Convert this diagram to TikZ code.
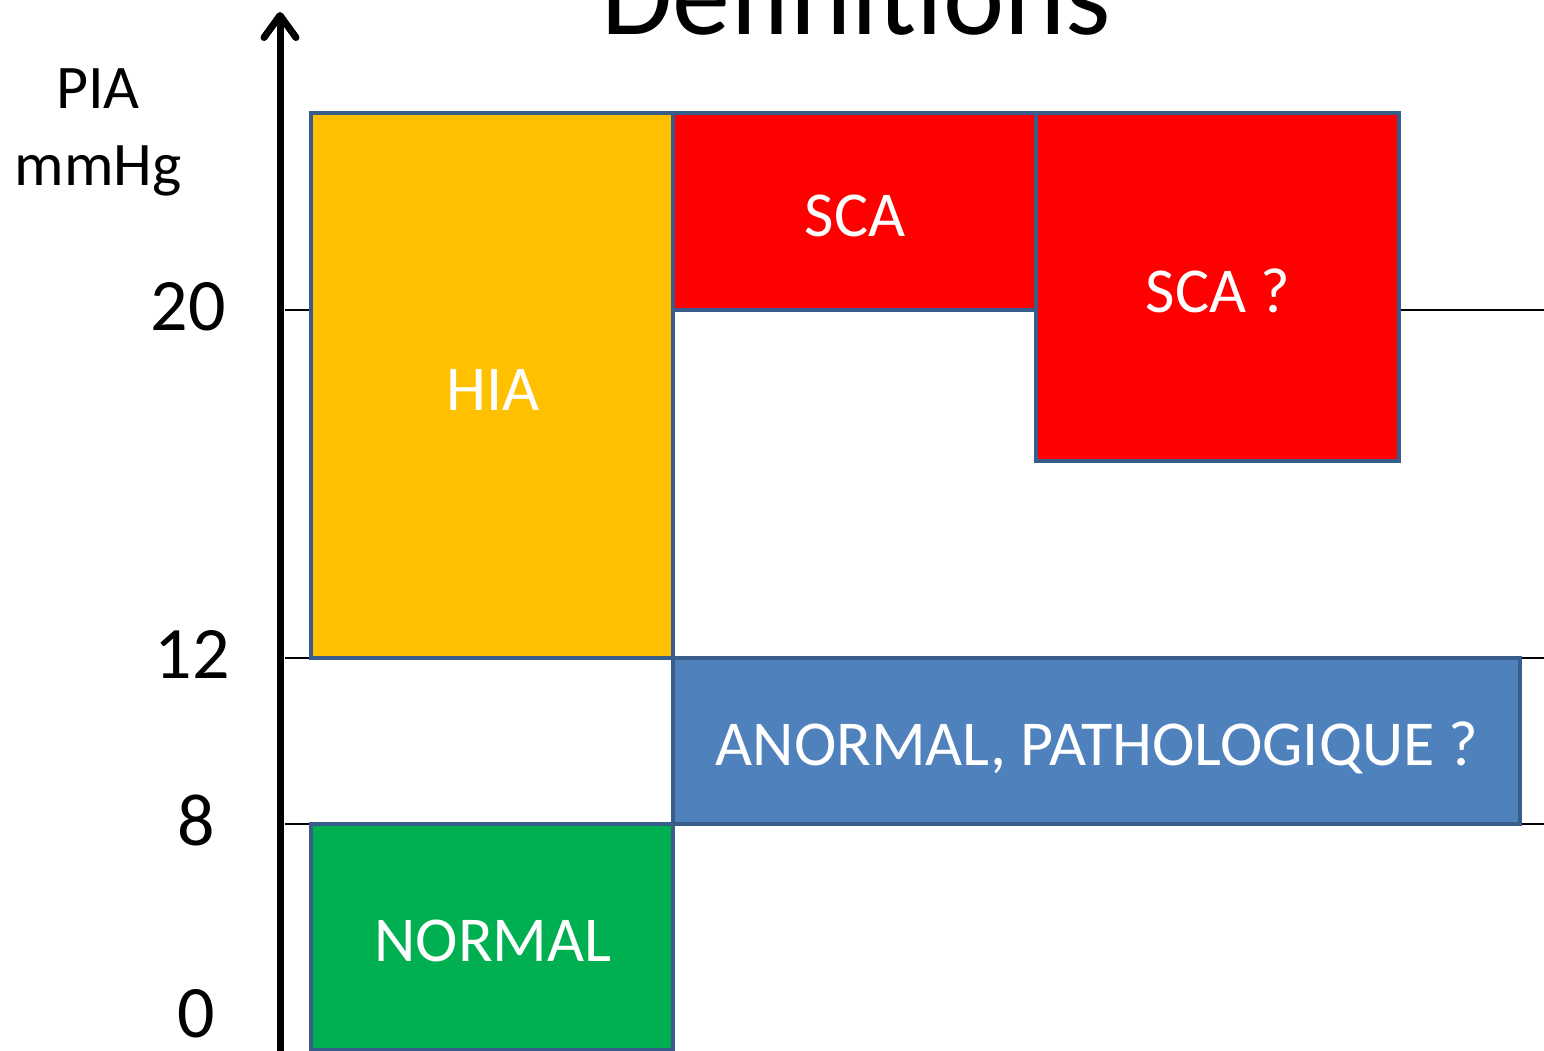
\documentclass[tikz,border=0pt]{standalone}
\usepackage{fontspec}
\setmainfont{Carlito}
\usetikzlibrary{arrows.meta}
\definecolor{hiaorange}{HTML}{FFC000}
\definecolor{scared}{HTML}{FF0000}
\definecolor{normgreen}{HTML}{00B050}
\definecolor{abnblue}{HTML}{4F81BD}
\definecolor{edgeblue}{HTML}{385D8A}
\begin{document}
\begin{tikzpicture}[x=1pt,y=-1pt,
  zone/.style={draw=edgeblue, line width=4pt, anchor=north west, inner sep=0pt, outer sep=0pt},
  zonetext/.style={white, font=\fontsize{64}{77}\selectfont, inner sep=0pt},
  level/.style={black, line width=2pt},
  ticklabel/.style={font=\fontsize{74}{88}\selectfont, inner sep=0pt},
  unitlabel/.style={font=\fontsize{62}{74}\selectfont, inner sep=0pt}]
\useasboundingbox (0,0) rectangle (1544,1050);
% reference levels 20, 12 and 8 mmHg
\coordinate (l20a) at (285,310); \coordinate (l20b) at (1544,310);
\coordinate (l12a) at (285,658); \coordinate (l12b) at (1544,658);
\coordinate (l8a)  at (285,824); \coordinate (l8b)  at (1544,824);
\draw[level] (l20a) -- (l20b);
\draw[level] (l12a) -- (l12b);
\draw[level] (l8a) -- (l8b);
% pressure axis
\coordinate (axbot) at (280,1060);
\coordinate (axtop) at (280,12);
\draw[line width=7pt, -{Straight Barb[length=22pt,width=32pt,line cap=round,line join=round]}] (axbot) -- (axtop);
% zones
\node[zone, fill=hiaorange, minimum width=362pt, minimum height=545pt] (hia) at (311,113) {};
\node[zone, fill=scared, minimum width=363pt, minimum height=197pt] (sca) at (673,113) {};
\node[zone, fill=scared, minimum width=363pt, minimum height=348pt] (scaq) at (1036,113) {};
\node[zone, fill=abnblue, minimum width=847pt, minimum height=166pt] (abn) at (673,658) {};
\node[zone, fill=normgreen, minimum width=362pt, minimum height=226pt] (norm) at (311,824) {};
% zone captions
\node[zonetext, anchor=base] (hiat) at (493,410) {HIA};
\node[zonetext, anchor=base] (scat) at (855,236) {SCA};
\node[zonetext, anchor=base] (scaqt) at (1218,312) {SCA ?};
\node[zonetext, anchor=base] (abnt) at (1097,765) {ANORMAL, PATHOLOGIQUE ?};
\node[zonetext, anchor=base] (normt) at (493,961) {NORMAL};
% axis labels
\node[unitlabel, anchor=base] (pia) at (98,108) {PIA};
\node[unitlabel, anchor=base] (unit) at (98,185) {mmHg};
\node[ticklabel, anchor=base] (t20) at (188,330) {20};
\node[ticklabel, anchor=base] (t12) at (192,678) {12};
\node[ticklabel, anchor=base] (t8) at (196,845) {8};
\node[ticklabel, anchor=base] (t0) at (196,1037) {0};
% title
\node[font=\fontsize{116}{132}\selectfont, anchor=base, inner sep=0pt] (title) at (856,34) {Definitions};
\end{tikzpicture}
\end{document}
